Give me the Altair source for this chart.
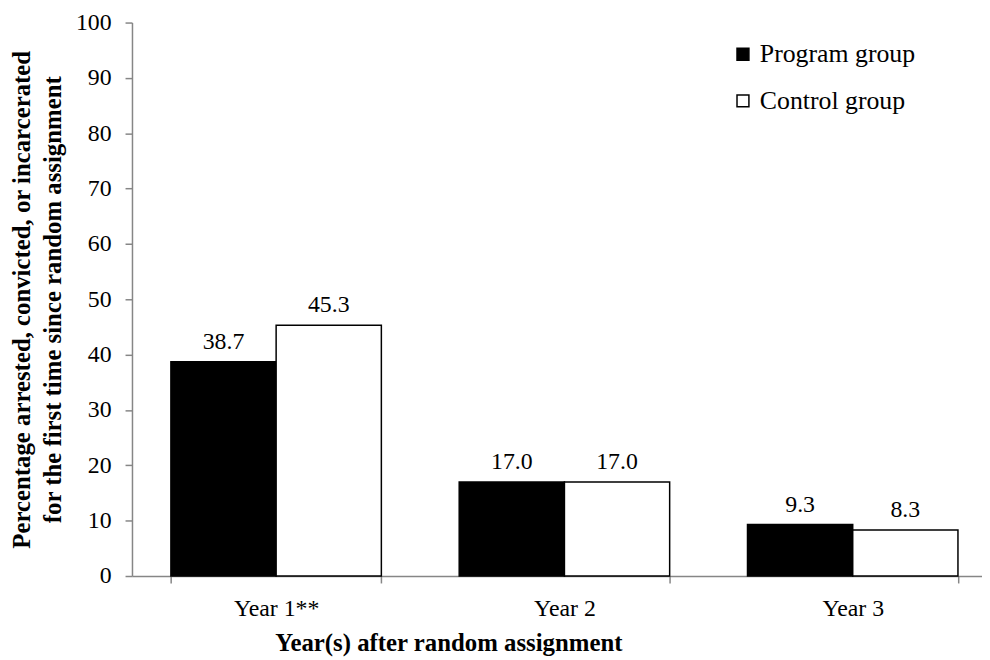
import altair as alt
import pandas as pd

years = ["Year 1**", "Year 2", "Year 3"]
groups = ["Program group", "Control group"]
program = [38.7, 17.0, 9.3]
control = [45.3, 17.0, 8.3]
y_ticks = [0, 10, 20, 30, 40, 50, 60, 70, 80, 90, 100]
y_title = ["Percentage arrested, convicted, or incarcerated",
           "for the first time since random assignment"]
x_title = "Year(s) after random assignment"

rows = []
for i, yr in enumerate(years):
    rows.append({"year": yr, "group": groups[0], "value": program[i]})
    rows.append({"year": yr, "group": groups[1], "value": control[i]})
df = pd.DataFrame(rows)

FONT = "Liberation Serif, Times New Roman, serif"
AXC = "#868686"

x_enc = alt.X(
    "year:N", sort=years,
    scale=alt.Scale(range=[0, 872], paddingInner=0.27, paddingOuter=0.135),
    axis=alt.Axis(
        title=x_title, labelAngle=0, tickBand="extent", tickSize=7,
        tickColor=AXC, domainColor=AXC, domainWidth=1.5, tickWidth=1.5,
        labelFont=FONT, labelFontSize=24, labelColor="black", labelPadding=14,
        titleFont=FONT, titleFontSize=25, titleFontWeight="bold", titleColor="black",
        titleX=319, titleY=67, titleBaseline="middle", titleAlign="center",
    ),
)
xoff = alt.XOffset("group:N", sort=groups,
                   scale=alt.Scale(paddingInner=0, paddingOuter=0))
y_enc = alt.Y(
    "value:Q",
    scale=alt.Scale(domain=[0, 100], nice=False),
    axis=alt.Axis(
        values=y_ticks, grid=False, title=y_title, tickSize=7,
        tickColor=AXC, domainColor=AXC, domainWidth=1.5, tickWidth=1.5,
        labelFont=FONT, labelFontSize=24, labelColor="black", labelPadding=14,
        titleFont=FONT, titleFontSize=25, titleFontWeight="bold", titleColor="black",
        titleX=-111, titleY=279, titleBaseline="middle", titleAlign="center",
        titleLineHeight=31, titleAngle=270,
    ),
)

bars = alt.Chart(df).mark_bar(stroke="black", strokeWidth=1.5).encode(
    x=x_enc, xOffset=xoff, y=y_enc,
    fill=alt.Fill(
        "group:N", sort=groups,
        scale=alt.Scale(domain=groups, range=["black", "white"]),
        legend=alt.Legend(
            title=None, orient="none", legendX=603, legendY=19,
            symbolType="square", symbolSize=144, symbolStrokeColor="black",
            symbolStrokeWidth=1.5, symbolOpacity=1,
            labelFont=FONT, labelFontSize=26, labelColor="black",
            labelOffset=4, rowPadding=21,
        ),
    ),
)

labels = alt.Chart(df).mark_text(
    dy=-8, baseline="bottom", fontSize=24, font=FONT, color="black"
).encode(
    x=alt.X("year:N", sort=years), xOffset=alt.XOffset("group:N", sort=groups),
    y="value:Q",
    text=alt.Text("value:Q", format=".1f"),
)

chart = alt.layer(bars, labels).properties(
    width=857, height=558,
    autosize=alt.AutoSizeParams(type="none"),
    padding={"left": 125, "top": 12, "right": 0, "bottom": 82},
).configure(font=FONT).configure_view(stroke=None)

chart.save("out.html", embed_options={"renderer": "svg", "actions": False})
